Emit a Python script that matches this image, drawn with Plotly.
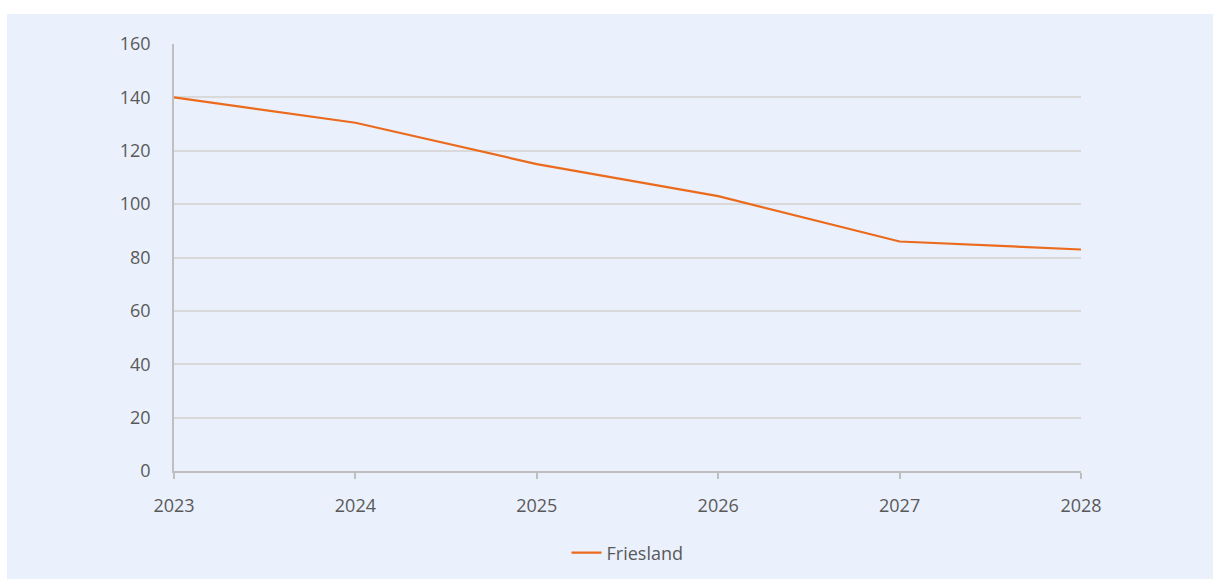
import plotly.graph_objects as go

years = [2023, 2024, 2025, 2026, 2027, 2028]
friesland = [140, 130.5, 115, 103, 86, 83]
y_ticks = [0, 20, 40, 60, 80, 100, 120, 140, 160]

W, H = 1213, 579
L, R, T, B = 174, 1213 - 1081, 44, 579 - 471
pw, ph = W - L - R, H - T - B

def px_x(px):
    return (px - L) / pw

def px_y(py):
    return (H - B - py) / ph

panel = "#EAF1FD"
grey_text = "#595959"

fig = go.Figure()
fig.add_trace(go.Scatter(
    x=years, y=friesland, mode="lines", name="Friesland",
    line=dict(color="#EB6A1C", width=2.2),
))

fig.add_shape(type="rect", xref="paper", yref="paper",
              x0=px_x(7), x1=px_x(W + 5), y0=px_y(H + 5), y1=px_y(14),
              fillcolor=panel, line=dict(width=0), layer="below")

fig.update_layout(
    width=W, height=H,
    margin=dict(l=L, r=R, t=T, b=B, pad=0, autoexpand=False),
    paper_bgcolor="white",
    plot_bgcolor=panel,
    font=dict(family="Open Sans, sans-serif", size=18, color=grey_text),
    showlegend=True,
    legend=dict(orientation="h", x=0.5, xanchor="center",
                yref="container", y=(H - 553) / H, yanchor="middle",
                bgcolor="rgba(0,0,0,0)", font=dict(size=18, color=grey_text)),
    xaxis=dict(
        range=[2023, 2028], tickvals=years, ticktext=[str(y) for y in years],
        showgrid=False, zeroline=False,
        showline=True, linecolor="#BFBFBF", linewidth=1.5,
        ticks="outside", ticklen=6, tickcolor="#BFBFBF", tickwidth=1.5,
        ticklabelstandoff=12, automargin=False,
        tickfont=dict(size=18, color=grey_text),
    ),
    yaxis=dict(
        range=[0, 160], tickvals=y_ticks,
        showgrid=True, gridcolor="#D9D9D9", gridwidth=1.5,
        zeroline=False,
        showline=True, linecolor="#BFBFBF", linewidth=1.5,
        ticks="", ticklabelstandoff=18, automargin=False,
        tickfont=dict(size=18, color=grey_text),
    ),
)

fig.write_html("out.html", config={"displayModeBar": False},
               post_script="document.body.style.margin='0';document.body.style.overflow='hidden';")
